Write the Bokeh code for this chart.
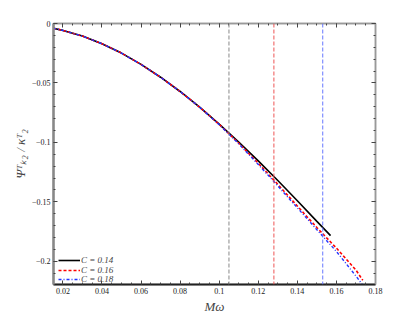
import numpy as np
from bokeh.plotting import figure
from bokeh.models import (Range1d, FixedTicker, LinearAxis, Span, Legend, LegendItem)
from bokeh.embed import file_html
from bokeh.resources import INLINE

# ---- data ----
mw_014 = [0.015, 0.02, 0.03, 0.04, 0.05, 0.06, 0.07, 0.08, 0.09, 0.10, 0.11, 0.12, 0.13, 0.14, 0.15, 0.157]
psi_014 = [-0.0040, -0.0058, -0.0106, -0.0170, -0.0249, -0.0344, -0.0452, -0.0572, -0.0704, -0.0846,
           -0.0997, -0.1156, -0.1321, -0.1491, -0.1665, -0.1785]

mw_016 = [0.015, 0.02, 0.03, 0.04, 0.05, 0.06, 0.07, 0.08, 0.09, 0.10, 0.11, 0.12, 0.13, 0.14, 0.15, 0.16, 0.17, 0.1735]
psi_016 = [-0.0040, -0.0058, -0.0106, -0.0170, -0.0249, -0.0344, -0.0452, -0.0572, -0.0704, -0.0849,
           -0.1007, -0.1176, -0.1353, -0.1536, -0.1717, -0.1890, -0.2075, -0.2160]

mw_018 = [0.015, 0.02, 0.03, 0.04, 0.05, 0.06, 0.07, 0.08, 0.09, 0.10, 0.11, 0.12, 0.13, 0.14, 0.15, 0.16, 0.17, 0.175]
psi_018 = [-0.0040, -0.0058, -0.0106, -0.0170, -0.0249, -0.0344, -0.0452, -0.0572, -0.0704, -0.0851,
           -0.1012, -0.1186, -0.1366, -0.1551, -0.1735, -0.1918, -0.2125, -0.2235]

series_labels = ["C = 0.14", "C = 0.16", "C = 0.18"]
vline_positions = [0.105, 0.128, 0.153]

x_ticks = [0.02, 0.04, 0.06, 0.08, 0.10, 0.12, 0.14, 0.16, 0.18]
x_tick_labels = ["0.02", "0.04", "0.06", "0.08", "0.1", "0.12", "0.14", "0.16", "0.18"]
y_ticks = [0.0, -0.05, -0.10, -0.15, -0.20]
y_tick_labels = ["0", "\u22120.05", "\u22120.1", "\u22120.15", "\u22120.2"]

x_minor = [round(v, 3) for v in np.arange(0.015, 0.1801, 0.005)]
y_minor = [round(v, 3) for v in np.arange(-0.22, 0.0001, 0.01)]

SERIF = "Liberation Serif"

p = figure(frame_width=322, frame_height=261, output_backend="svg", toolbar_location=None,
           x_range=Range1d(0.0152, 0.18), y_range=Range1d(-0.2196, 0.0),
           min_border_left=53, min_border_right=31, min_border_top=23, min_border_bottom=26)
p.background_fill_color = "white"
p.border_fill_color = "white"
p.grid.visible = False
p.outline_line_color = "#999999"
p.outline_line_width = 1.5

# vertical dashed markers
for pos, col in zip(vline_positions, ["#888888", "#ee5555", "#6677ff"]):
    p.add_layout(Span(location=pos, dimension="height", line_color=col, line_width=1,
                      line_dash="4 2"))

r1 = p.line(mw_014, psi_014, line_color="black", line_width=1.6)
r2 = p.line(mw_016, psi_016, line_color="#ff0000", line_width=1.6, line_dash="3 2")
r3 = p.line(mw_018, psi_018, line_color="#2233ff", line_width=1.4, line_dash="3 2 1 2")

def style_axis(ax, ticks, minor, overrides, color, width):
    ax.ticker = FixedTicker(ticks=ticks, minor_ticks=minor)
    ax.major_label_overrides = overrides
    ax.major_tick_in = 4
    ax.major_tick_out = 0
    ax.minor_tick_in = 2
    ax.minor_tick_out = 0
    ax.major_tick_line_color = "#444444"
    ax.minor_tick_line_color = "#444444"
    ax.axis_line_color = color
    ax.axis_line_width = width
    ax.major_label_text_font = SERIF
    ax.major_label_text_font_size = "8px"
    ax.major_label_text_color = "#222222"
    ax.major_label_standoff = 3

xa = p.xaxis[0]
style_axis(xa, x_ticks, x_minor, {t: l for t, l in zip(x_ticks, x_tick_labels)}, "#222222", 2)
xa.axis_label = "M\u03c9"
xa.axis_label_text_font = SERIF
xa.axis_label_text_font_style = "italic"
xa.axis_label_text_font_size = "13px"
xa.axis_label_standoff = 2

ya = p.yaxis[0]
style_axis(ya, y_ticks, y_minor, {t: l for t, l in zip(y_ticks, y_tick_labels)}, "#888888", 2.5)
ya.axis_label = "\u03a8\u1d40\u2096\u2082 / \u03ba\u1d40\u2082"
ya.axis_label_text_font = SERIF
ya.axis_label_text_font_style = "italic"
ya.axis_label_text_font_size = "13px"
ya.axis_label_standoff = 1

top = LinearAxis()
style_axis(top, x_ticks, x_minor, {t: "" for t in x_ticks}, "#999999", 1.5)
top.major_label_text_font_size = "0px"
top.major_label_standoff = 0
p.add_layout(top, "above")

right = LinearAxis()
style_axis(right, y_ticks, y_minor, {t: "" for t in y_ticks}, "#999999", 1.5)
right.major_label_text_font_size = "0px"
right.major_label_standoff = 0
p.add_layout(right, "right")

# one single-row legend per series so the rows can sit as tightly as in the reference
for i, (lab, r) in enumerate(zip(series_labels, [r1, r2, r3])):
    lg = Legend(items=[LegendItem(label=lab, renderers=[r])], location=(5, 19 - 9.5 * i))
    lg.background_fill_alpha = 0
    lg.border_line_color = None
    lg.label_text_font = SERIF
    lg.label_text_font_style = "italic"
    lg.label_text_font_size = "9px"
    lg.label_height = 6
    lg.glyph_height = 6
    lg.glyph_width = 22
    lg.label_standoff = 1
    lg.padding = 0
    lg.margin = 0
    lg.spacing = 0
    p.add_layout(lg)

open("out.html", "w").write(file_html(p, INLINE))
